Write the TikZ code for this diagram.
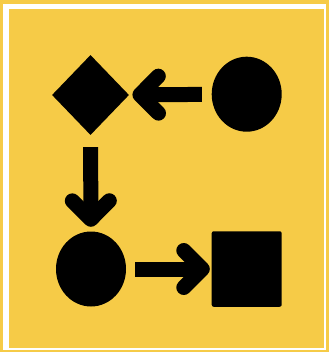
\documentclass[tikz,border=0pt]{standalone}
\usetikzlibrary{arrows.meta,shapes.geometric}
\definecolor{signyellow}{HTML}{F6CB47}

\begin{document}
\begin{tikzpicture}[
  x=1pt, y=-1pt,
  blob/.style={fill=black, draw=none, inner sep=0pt},
  roundel/.style={blob, ellipse, minimum width=70pt, minimum height=75pt},
  gem/.style={blob, diamond, minimum width=77pt, minimum height=80pt},
  block/.style={blob, rectangle, rounded corners=2pt, minimum width=70pt, minimum height=75.5pt},
  link/.style={line width=15pt, line cap=butt, draw=black,
    -{Straight Barb[length=18.5pt, width=37pt, round]}}
]
\useasboundingbox (0,0) rectangle (329,352);
\fill[signyellow] (0,0) rectangle (329,352);
\fill[white] (3,4) rectangle (326,350);
\fill[signyellow] (8.5,9.5) rectangle (324,348);

\node[gem] (dia) at (90.5,95) {};
\node[roundel] (start) at (246.7,94.2) {};
\node[roundel] (finish) at (91,269) {};
\node[block] (stop) at (246.7,269) {};

\draw[link, shorten <=9.7pt, shorten >=3.4pt] (start) -- (dia);
\draw[link, shorten <=12pt, shorten >=4.5pt] (dia) -- (finish);
\draw[link, shorten <=9pt, shorten >=1.7pt] (finish) -- (stop);
\end{tikzpicture}
\end{document}
